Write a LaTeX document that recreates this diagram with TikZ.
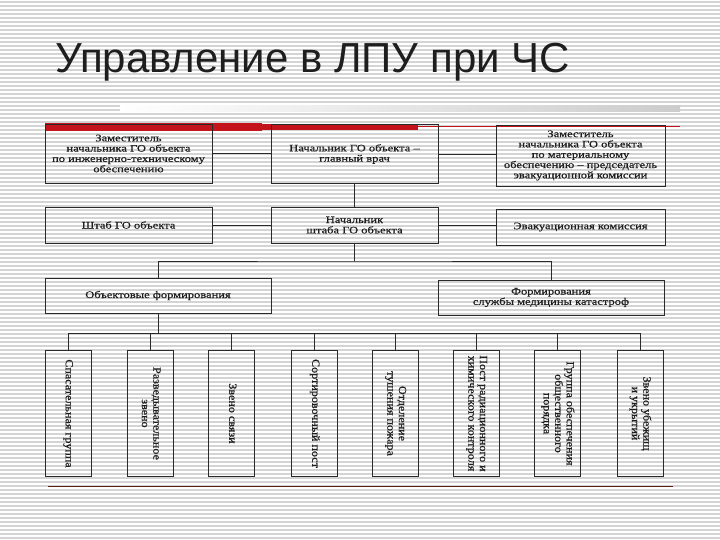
\documentclass[tikz,border=0pt]{standalone}
\usepackage{fontspec}
\usepackage{graphicx}
\setmainfont{Liberation Serif}
\newfontfamily\lpuTitleFont{Liberation Sans}
\newfontfamily\lpuScanFont[FakeStretch=1.25, FakeBold=0.6]{Liberation Serif}
\newfontfamily\lpuVertFont[FakeStretch=1.1, FakeBold=0.6]{Liberation Serif}
\usetikzlibrary{calc}
\definecolor{lpuInk}{HTML}{1E1E1E}
\definecolor{lpuLine}{HTML}{2A2A2A}
\definecolor{lpuStripe}{HTML}{D4D4D4}
\definecolor{lpuRed}{HTML}{C3141C}
\definecolor{lpuRule}{HTML}{5A1E14}
\newcommand{\lpuVert}[1]{\rotatebox{-90}{\begin{tabular}{@{}c@{}}#1\end{tabular}}}
\tikzset{
  lpu box/.style={draw=lpuLine, line width=0.8pt, inner sep=1pt, align=center,
    text=lpuInk, font=\lpuScanFont\fontsize{10}{10.3}\selectfont},
  lpu vbox/.style={draw=lpuLine, line width=0.8pt, inner sep=0pt,
    minimum width=46, minimum height=126, text=lpuInk,
    font=\lpuVertFont\fontsize{11}{11.5}\selectfont},
  lpu link/.style={draw=lpuLine, line width=0.8pt},
}

\begin{document}
\begin{tikzpicture}[x=1pt, y=-1pt, line cap=rect]
  \useasboundingbox (0,0) rectangle (720,540);

  % Striped slide background
  \foreach \y in {2,6,...,538} {
    \draw[lpuStripe, line width=1.4pt] (0,\y) -- (720,\y);
  }

  % Title
  \node[anchor=base west, inner sep=0pt, text=lpuInk,
        font=\lpuTitleFont\fontsize{42}{50}\selectfont] (title) at (55,73)
    {Управление в ЛПУ при ЧС};

  % ---- Scan edges ----
  \shade[left color=white, right color=gray!40] (120,106) rectangle (680,112);
  \draw[lpuRed, line width=0.6pt] (45,126) -- (680,126);
  \fill[lpuRed] (45,123.5) rectangle (262,131);
  \draw[lpuRed, line width=6pt, dash pattern=on 9pt off 3pt] (264,127.5) -- (415,127.5);
  \draw[lpuRule, line width=1pt] (48,486) -- (672,486);

  % ---- Top rows ----
  \node[lpu box, minimum width=167, minimum height=59] (deputyEng) at (128.5,153.5)
    {Заместитель\\начальника ГО объекта\\по инженерно-техническому\\обеспечению};
  \node[lpu box, minimum width=167, minimum height=59] (chief) at (354.5,154)
    {Начальник ГО объекта –\\главный врач};
  \node[lpu box, minimum width=169, minimum height=61] (deputyMat) at (580.5,155.5)
    {Заместитель\\начальника ГО объекта\\по материальному\\обеспечению – председатель\\эвакуационной комиссии};

  \node[lpu box, minimum width=167, minimum height=36] (staff) at (128.5,225)
    {Штаб ГО объекта};
  \node[lpu box, minimum width=167, minimum height=36] (staffChief) at (354.5,225)
    {Начальник\\штаба ГО объекта};
  \node[lpu box, minimum width=169, minimum height=36] (evac) at (580.5,227)
    {Эвакуационная комиссия};

  \draw[lpu link] (deputyEng.east) -- (deputyEng.east -| chief.west);
  \draw[lpu link] (chief.east) -- (chief.east -| deputyMat.west);
  \draw[lpu link] (chief.south) -- (staffChief.north);
  \draw[lpu link] (staff.east) -- (staff.east -| staffChief.west);
  \draw[lpu link] (staffChief.east) -- (staffChief.east -| evac.west);

  % ---- Formations ----
  \node[lpu box, minimum width=226, minimum height=35] (objForm) at (158,295.5)
    {Объектовые формирования};
  \node[lpu box, minimum width=226, minimum height=35] (medForm) at (551,297.5)
    {Формирования\\службы медицины катастроф};

  \coordinate (busTop) at (354.5,261);
  \draw[lpu link] (staffChief.south) -- (busTop);
  \draw[lpu link] (objForm.north) |- (busTop) -| (medForm.north);

  % ---- Object units ----
  \node[lpu vbox] (unit1) at (68,413.5)    {\lpuVert{Спасательная группа}};
  \node[lpu vbox] (unit2) at (150,413.5)   {\lpuVert{Разведывательное\\звено}};
  \node[lpu vbox] (unit3) at (231.5,413.5) {\lpuVert{Звено связи}};
  \node[lpu vbox] (unit4) at (314.5,413.5) {\lpuVert{Сортировочный пост}};
  \node[lpu vbox] (unit5) at (395.5,413.5) {\lpuVert{Отделение\\тушения пожара}};
  \node[lpu vbox] (unit6) at (476.5,413.5) {\lpuVert{Пост радиационного и\\химического контроля}};
  \node[lpu vbox] (unit7) at (557.5,413.5) {\lpuVert{Группа обеспечения\\общественного\\порядка}};
  \node[lpu vbox] (unit8) at (640,413.5)   {\lpuVert{Звено убежищ\\и укрытий}};

  \coordinate (busLow) at (158,333);
  \draw[lpu link] (objForm.south) -- (busLow);
  \foreach \i in {1,...,8} {
    \draw[lpu link] (unit\i.north) |- (busLow);
  }
\end{tikzpicture}
\end{document}
